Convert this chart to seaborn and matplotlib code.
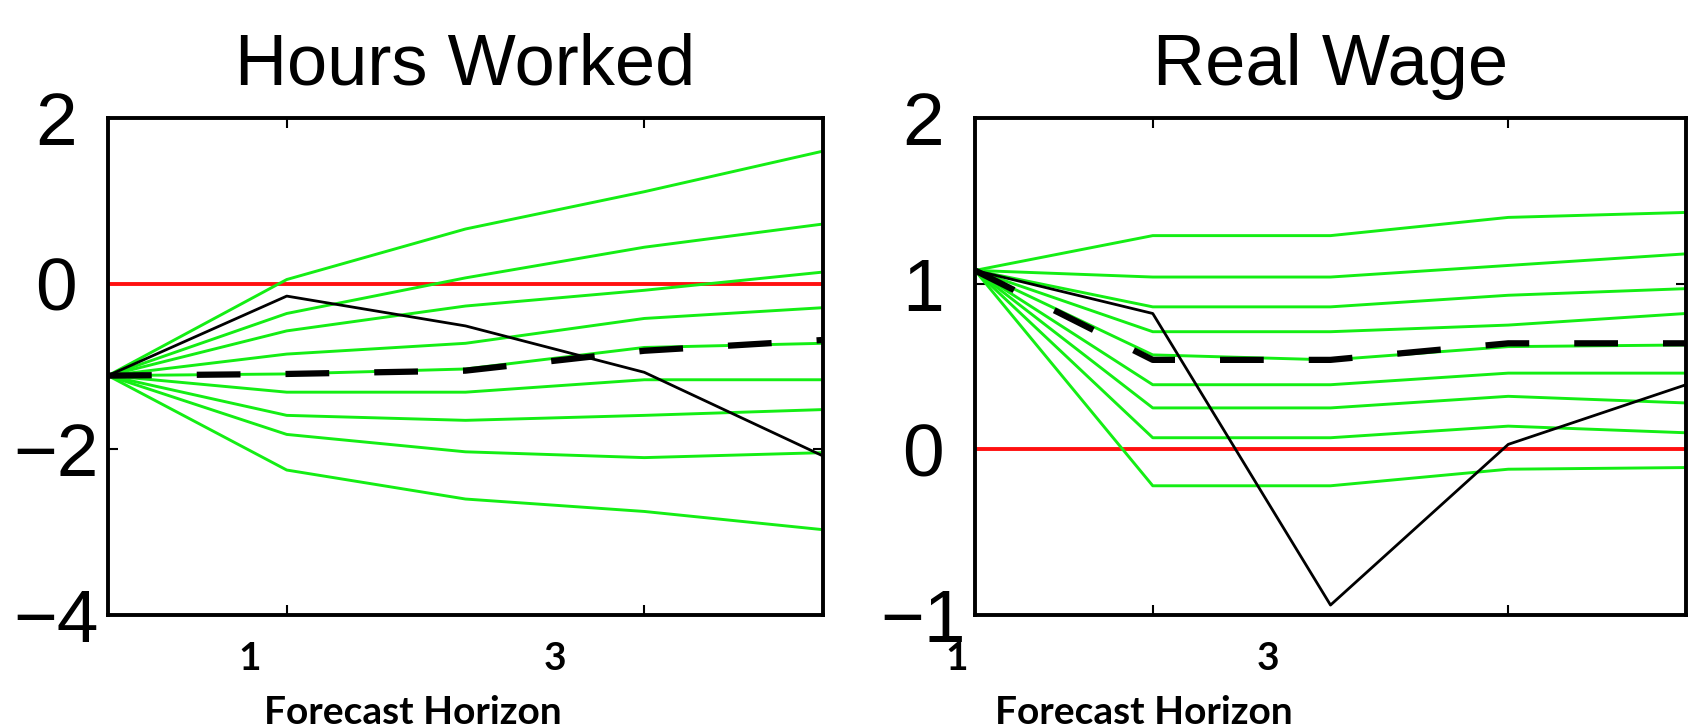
import matplotlib
matplotlib.use("Agg")
import matplotlib.pyplot as plt
import seaborn as sns

# ---------------- data ----------------
horizon = [0, 1, 2, 3, 4]

hours_bands = [
    [-1.11, 0.05, 0.66, 1.11, 1.60],
    [-1.11, -0.36, 0.07, 0.44, 0.72],
    [-1.11, -0.57, -0.27, -0.08, 0.14],
    [-1.11, -0.85, -0.72, -0.42, -0.29],
    [-1.11, -1.09, -1.03, -0.77, -0.72],
    [-1.11, -1.31, -1.31, -1.16, -1.16],
    [-1.11, -1.59, -1.65, -1.59, -1.52],
    [-1.11, -1.82, -2.03, -2.10, -2.04],
    [-1.11, -2.25, -2.60, -2.75, -2.97],
]
hours_actual = [-1.11, -0.15, -0.51, -1.07, -2.08]
hours_median = [-1.11, -1.09, -1.05, -0.81, -0.68]

wage_bands = [
    [1.08, 1.29, 1.29, 1.40, 1.43],
    [1.08, 1.04, 1.04, 1.11, 1.18],
    [1.08, 0.86, 0.86, 0.93, 0.97],
    [1.08, 0.71, 0.71, 0.75, 0.82],
    [1.08, 0.57, 0.54, 0.62, 0.63],
    [1.08, 0.39, 0.39, 0.46, 0.46],
    [1.08, 0.25, 0.25, 0.32, 0.28],
    [1.08, 0.07, 0.07, 0.14, 0.10],
    [1.08, -0.22, -0.22, -0.12, -0.11],
]
wage_actual = [1.08, 0.82, -0.94, 0.03, 0.39]
wage_median = [1.08, 0.54, 0.54, 0.64, 0.64]

titles = ["Hours Worked", "Real Wage"]
hours_yticks = [-4, -2, 0, 2]
wage_yticks = [-1, 0, 1, 2]
xtick_positions = [1, 3]
horizon_labels = ["1", "3"]
xlabel_text = "Forecast Horizon"

# ---------------- style ----------------
sns.set_style("ticks")
plt.rcParams["font.family"] = ["Liberation Sans", "DejaVu Sans"]
plt.rcParams["text.color"] = "black"
plt.rcParams["axes.labelcolor"] = "black"
plt.rcParams["xtick.color"] = "black"
plt.rcParams["ytick.color"] = "black"

W, H = 1689, 728
fig = plt.figure(figsize=(W / 100, H / 100), dpi=100)

def frac_box(x0, x1, y0, y1):
    return [x0 / W, 1 - y1 / H, (x1 - x0) / W, (y1 - y0) / H]

ax1 = fig.add_axes(frac_box(108, 823, 118, 615))
ax2 = fig.add_axes(frac_box(975, 1686, 118, 615))

GREEN = "#14ee14"
RED = "#ff1010"

def draw_panel(ax, bands, actual, median, yticks, title):
    ax.axhline(0, color=RED, lw=2.8, zorder=1)
    for b in bands:
        sns.lineplot(x=horizon, y=b, ax=ax, color=GREEN, linewidth=2.1, zorder=2)
    sns.lineplot(x=horizon, y=actual, ax=ax, color="black", linewidth=2.0, zorder=3)
    sns.lineplot(x=horizon, y=median, ax=ax, color="black", linewidth=4.5,
                 linestyle=(0, (7.0, 7.2)), zorder=4)
    ax.set_xlim(horizon[0], horizon[-1])
    ax.set_ylim(min(yticks), max(yticks))
    ax.set_xticks(xtick_positions)
    ax.set_xticklabels([])
    ax.set_yticks(yticks)
    ax.set_yticklabels([str(v).replace("-", "\u2212") for v in yticks])
    ax.tick_params(axis="both", direction="in", length=7, width=1.5,
                   top=True, right=True, color="black")
    ax.tick_params(axis="y", labelsize=54, pad=37.5, labelcolor="black")
    for lbl in ax.get_yticklabels():
        lbl.set_ha("center")
    for sp in ax.spines.values():
        sp.set_linewidth(2.8)
        sp.set_color("black")
        sp.set_zorder(5)
    ax.set_xlabel("")
    ax.set_ylabel("")
    ax.set_title(title, fontsize=52, pad=24, color="black")

draw_panel(ax1, hours_bands, hours_actual, hours_median, hours_yticks, titles[0])
draw_panel(ax2, wage_bands, wage_actual, wage_median, wage_yticks, titles[1])

# bold horizon labels below the panels
lab_font = dict(family=["Lato", "DejaVu Sans"], fontweight="bold", fontsize=28,
                ha="center", va="center", color="black")
label_x = [[250, 555], [957, 1268]]
xlabel_x = [413, 1144]
for px, xl in zip(label_x, xlabel_x):
    for x, t in zip(px, horizon_labels):
        fig.text(x / W, 1 - 659 / H, t, **lab_font)
    fig.text(xl / W, 1 - 712 / H, xlabel_text, **lab_font)

fig.savefig("out.png", dpi=100)
